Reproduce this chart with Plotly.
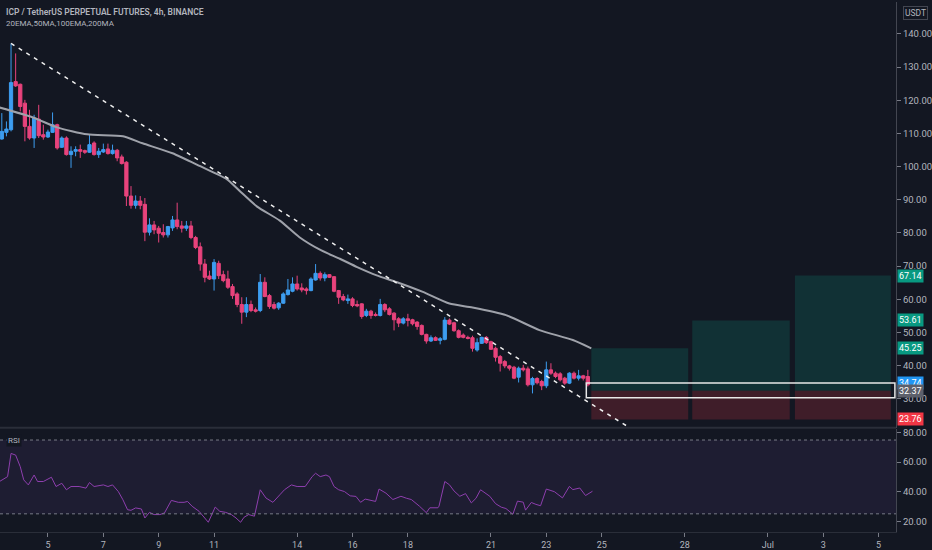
import pandas as pd
import plotly.graph_objects as go
from plotly.subplots import make_subplots

# ICP / USDT perpetual, 4h candles, June 2021
candle_start = "2021-06-03 08:00"

opens = [108.3, 110.3, 111.1, 125.6, 124.8, 119.1, 112.1, 108.6, 114.3, 109.6,
         108.9, 110.3, 112.6, 105.8, 108.6, 103.6, 104.6, 105.1, 104.8, 104.3,
         107.1, 103.6, 104.4, 105.3, 103.9, 104.9, 102.9, 101.3, 91.1, 88.3,
         89.6, 88.6, 80.2, 82.4, 81.4, 80.1, 79.4, 81.5, 83.9, 82.1,
         81.4, 82.1, 78.6, 75.8, 70.6, 67.0, 66.1, 70.8, 67.4, 66.1,
         63.8, 61.6, 58.4, 56.1, 58.4, 56.8, 56.6, 65.1, 61.1, 58.4,
         57.4, 58.8, 61.4, 62.4, 64.6, 63.4, 63.1, 62.6, 65.8, 67.8,
         66.4, 67.4, 66.8, 62.6, 60.8, 59.6, 60.1, 58.4, 58.6, 55.1,
         56.4, 55.4, 55.1, 58.4, 57.1, 55.8, 54.1, 52.8, 54.1, 53.8,
         53.1, 52.1, 49.4, 47.4, 48.4, 47.6, 47.9, 53.7, 52.9, 50.5,
         49.2, 48.5, 48.4, 44.7, 46.7, 48.5, 47.2, 45.2, 42.7, 41.2, 39.9,
         39.5, 36.5, 39.2, 39.0, 34.2, 36.1, 35.2, 33.9, 38.7, 37.7,
         37.5, 36.2, 34.7, 37.7, 36.2, 36.9, 36.7]
highs = [116.1, 113.6, 137.1, 134.1, 125.0, 120.1, 117.1, 115.6, 118.6, 112.6,
         111.1, 116.3, 112.9, 109.1, 109.1, 106.1, 106.1, 106.6, 105.1, 109.6,
         107.6, 105.6, 106.9, 106.9, 106.6, 105.3, 103.6, 101.6, 94.1, 91.3,
         91.1, 90.5, 84.4, 83.6, 82.1, 82.6, 82.1, 85.1, 89.1, 83.6,
         83.6, 83.6, 79.1, 77.1, 72.1, 68.6, 72.1, 71.6, 68.6, 68.6,
         64.6, 62.1, 60.6, 60.6, 59.6, 57.5, 67.6, 66.6, 61.6, 59.2,
         59.1, 62.1, 66.1, 66.6, 67.1, 64.8, 63.6, 66.6, 70.6, 68.4,
         68.1, 67.6, 67.0, 62.8, 61.6, 61.4, 60.6, 59.6, 58.8, 57.1,
         56.8, 56.0, 60.1, 58.8, 57.6, 56.1, 54.6, 54.6, 55.6, 54.1,
         53.4, 52.4, 49.6, 49.1, 48.8, 48.6, 54.6, 54.2, 53.2, 50.9,
         49.7, 49.0, 49.0, 48.2, 48.7, 48.9, 47.5, 45.7, 43.2, 41.7, 40.2,
         39.9, 39.7, 40.2, 39.7, 36.6, 36.5, 35.7, 41.2, 40.7, 38.2,
         38.0, 36.6, 38.0, 38.2, 38.7, 37.2, 38.7]
lows = [108.1, 109.1, 110.6, 124.0, 116.6, 107.6, 108.1, 105.6, 108.6, 108.1,
        108.6, 110.1, 105.1, 105.6, 103.3, 99.6, 103.1, 102.6, 103.8, 104.1,
        103.3, 102.6, 104.1, 103.6, 103.6, 101.6, 100.6, 88.1, 87.3, 87.3,
        87.1, 77.5, 79.2, 79.6, 77.1, 78.6, 78.6, 80.6, 81.1, 80.1,
        80.6, 78.1, 75.1, 68.6, 65.1, 65.8, 62.6, 66.1, 65.1, 63.1,
        60.1, 57.6, 52.6, 54.6, 56.1, 56.0, 56.1, 60.6, 57.1, 56.9,
        56.8, 58.6, 61.1, 62.1, 62.6, 62.1, 61.4, 62.4, 65.6, 65.6,
        65.4, 66.4, 62.1, 58.6, 59.4, 58.6, 57.6, 57.6, 54.1, 54.6,
        54.1, 54.8, 54.8, 56.1, 55.1, 50.6, 51.6, 52.4, 51.8, 52.1,
        50.8, 49.1, 46.6, 47.1, 47.4, 46.4, 47.6, 52.2, 50.2, 48.2,
        48.2, 47.9, 44.2, 44.2, 46.5, 46.5, 44.7, 41.2, 38.2, 39.2, 38.5,
        35.9, 34.9, 38.2, 33.7, 31.6, 34.3, 32.6, 33.2, 37.2, 36.2,
        35.2, 34.2, 34.4, 35.8, 35.5, 35.5, 33.7]
closes = [110.6, 111.3, 125.3, 124.3, 118.1, 112.1, 108.6, 114.6, 109.3, 108.9,
          110.4, 112.6, 105.6, 108.6, 103.6, 104.6, 105.1, 104.6, 104.3, 106.6,
          103.6, 104.6, 105.1, 103.9, 104.9, 102.6, 100.9, 91.1, 88.3, 89.6,
          88.3, 80.2, 82.4, 80.9, 79.9, 79.4, 81.9, 83.9, 81.9, 81.4,
          82.1, 78.6, 75.6, 70.6, 66.6, 66.1, 71.1, 67.1, 65.6, 63.6,
          61.1, 58.4, 56.1, 58.4, 56.6, 56.4, 65.1, 60.8, 57.8, 57.3,
          58.8, 61.6, 62.8, 64.6, 63.1, 62.8, 62.6, 66.1, 67.8, 66.4,
          67.4, 66.6, 62.4, 60.6, 59.8, 60.1, 58.1, 58.0, 54.8, 56.4,
          55.1, 55.1, 58.4, 56.8, 55.4, 53.8, 52.8, 54.1, 53.6, 52.6,
          51.8, 49.4, 47.4, 48.4, 47.6, 48.1, 53.7, 52.5, 50.5, 48.5,
          48.5, 48.2, 45.2, 46.9, 48.5, 46.9, 44.9, 42.5, 40.7, 39.9, 39.2,
          36.2, 39.2, 38.7, 34.2, 36.1, 34.8, 33.9, 38.7, 37.7, 36.7,
          35.7, 34.7, 37.7, 36.2, 36.9, 36.2, 34.2]

# moving average (grey line), hours after 2021-06-05 00:00
ema_hours = [-42, -13, 8, 34, 65, 82, 108, 132, 155, 166, 181, 201, 218,
             237, 253, 268, 285, 302, 325, 348, 368, 397, 426, 455, 471]
ema_vals = [117.8, 114.8, 111.8, 109.7, 109.1, 107.0, 104.0, 100.1, 96.2, 92.7,
            88.0, 83.7, 78.7, 74.7, 72.2, 69.7, 67.2, 65.2, 62.2, 58.7,
            57.5, 55.2, 50.7, 47.7, 45.2]

# RSI, hours after 2021-06-05 00:00
rsi_hours = [-42, -37, -35, -32, -28, -24, -21, -17, -12, -9, -4, 3, 7, 12, 16, 20,
             27, 33, 36, 40, 48, 52, 56, 61, 65, 69, 72, 76, 81, 84, 88, 92,
             97, 101, 107, 113, 118, 121, 125, 131, 136, 139, 145, 149, 154, 159,
             163, 167, 170, 174, 179, 184, 189, 195, 201, 205, 211, 216, 223, 229,
             232, 236, 241, 244, 248, 252, 257, 262, 267, 271, 275, 280, 284,
             287, 293, 299, 306, 311, 315, 322, 328, 331, 338, 339, 344, 348,
             352, 357, 362, 367, 371, 375, 383, 388, 393, 397, 403, 407, 412,
             414, 419, 423, 427, 432, 439, 446, 452, 455, 461, 466, 472]
rsi_vals = [46.9, 49.1, 50.2, 65.9, 64.8, 56.9, 48.0, 44.6, 51.3, 46.9, 46.9, 49.8,
            43.5, 45.7, 41.3, 43.5, 43.5, 42.4, 46.2, 43.5, 44.6, 43.5, 44.6, 40.1,
            34.5, 27.8, 27.4, 29.0, 28.3, 22.2, 26.0, 24.5, 24.5, 25.6, 34.1, 32.8,
            32.8, 33.4, 30.1, 26.7, 21.6, 19.3, 29.6, 26.7, 26.0, 24.5, 22.2, 19.3,
            22.7, 24.5, 23.4, 41.3, 35.7, 32.8, 37.9, 41.3, 44.6, 43.5, 43.5, 50.2,
            52.5, 50.2, 51.3, 50.2, 43.5, 41.3, 40.1, 37.2, 36.8, 32.8, 35.0, 33.9,
            33.4, 41.8, 39.0, 34.7, 36.9, 35.5, 34.7, 30.2, 25.8, 29.1, 29.1, 30.2,
            46.9, 44.7, 40.5, 36.9, 38.7, 32.4, 35.5, 41.3, 36.9, 31.9, 29.5, 28.6,
            24.7, 33.6, 32.9, 27.5, 32.7, 31.4, 30.5, 41.8, 40.0, 35.8, 43.6, 41.4,
            42.5, 37.4, 40.3]

# drawings
trend_dates = ["2021-06-03 16:00", "2021-06-26 00:00"]
trend_prices = [137.1, 21.3]

entry_price = 32.37
stop_price = 23.76
target_prices = [45.25, 53.61, 67.14]
box_starts = ["2021-06-24 15:00", "2021-06-28 06:30", "2021-07-01 23:30"]
box_ends = ["2021-06-28 03:00", "2021-07-01 19:00", "2021-07-05 10:40"]
rect_dates = ["2021-06-24 10:40", "2021-07-05 14:10"]
rect_prices = [30.3, 34.74]

price_ticks = [30, 40, 50, 60, 70, 80, 90, 100, 110, 120, 130, 140]
rsi_ticks = [20, 40, 60, 80]
date_ticks = ["2021-06-05", "2021-06-07", "2021-06-09", "2021-06-11", "2021-06-14",
              "2021-06-16", "2021-06-18", "2021-06-21", "2021-06-23", "2021-06-25",
              "2021-06-28", "2021-07-01", "2021-07-03", "2021-07-05"]
date_labels = ["5", "7", "9", "11", "14", "16", "18", "21", "23", "25", "28", "Jul", "3", "5"]

axis_labels = [(67.14, "#089981"), (53.61, "#089981"), (45.25, "#089981"),
               (34.74, "#2196f3"), (32.37, "#5d606b"), (23.76, "#f23645")]

BG = "#131722"
TXT = "#b2b5be"
FONT = "Roboto"

times = pd.date_range(candle_start, periods=len(closes), freq="4h")
base = pd.Timestamp("2021-06-05")
ema_t = base + pd.to_timedelta(ema_hours, unit="h")
rsi_t = base + pd.to_timedelta(rsi_hours, unit="h")

fig = make_subplots(rows=2, cols=1, shared_xaxes=True)

fig.add_trace(go.Candlestick(
    x=times, open=opens, high=highs, low=lows, close=closes,
    increasing=dict(line=dict(color="#3d9df0", width=1), fillcolor="#3d9df0"),
    decreasing=dict(line=dict(color="#e8437c", width=1), fillcolor="#e8437c"),
    whiskerwidth=0, showlegend=False, hoverinfo="skip"), row=1, col=1)

fig.add_trace(go.Scatter(x=ema_t, y=ema_vals, mode="lines",
                         line=dict(color="#9fa2aa", width=2, shape="spline", smoothing=0.6),
                         showlegend=False, hoverinfo="skip"), row=1, col=1)

fig.add_trace(go.Scatter(x=pd.to_datetime(trend_dates), y=trend_prices, mode="lines",
                         line=dict(color="#f0f0f0", width=1.5, dash="4px,5px"),
                         showlegend=False, hoverinfo="skip"), row=1, col=1)

fig.add_trace(go.Scatter(x=rsi_t, y=rsi_vals, mode="lines",
                         line=dict(color="#8e3fae", width=1),
                         showlegend=False, hoverinfo="skip"), row=2, col=1)

# long position boxes
for s, e, tp in zip(box_starts, box_ends, target_prices):
    fig.add_shape(type="rect", xref="x", yref="y", x0=s, x1=e, y0=entry_price, y1=tp,
                  fillcolor="rgba(8,153,129,0.2)", line_width=0, layer="below")
    fig.add_shape(type="rect", xref="x", yref="y", x0=s, x1=e, y0=stop_price, y1=entry_price,
                  fillcolor="rgba(242,54,69,0.2)", line_width=0, layer="below")

fig.add_shape(type="rect", xref="x", yref="y", x0=rect_dates[0], x1=rect_dates[1],
              y0=rect_prices[0], y1=rect_prices[1],
              line=dict(color="#e8e8e8", width=1.5), fillcolor="rgba(0,0,0,0)")

# RSI band
fig.add_shape(type="rect", xref="x2 domain", yref="y2", x0=0, x1=1, y0=25, y1=75,
              fillcolor="rgba(126,87,194,0.1)", line_width=0, layer="below")
for lvl in (25, 75):
    fig.add_shape(type="line", xref="x2 domain", yref="y2", x0=0, x1=1, y0=lvl, y1=lvl,
                  line=dict(color="#787b86", width=1, dash="3px,3px"))

# pane separator
fig.add_shape(type="line", xref="paper", yref="paper", x0=0, x1=1, y0=0.1965, y1=0.1965,
              line=dict(color="#2a2e39", width=2))

for price, col in axis_labels:
    fig.add_annotation(x=1, xref="paper", y=price, yref="y", xanchor="left", xshift=1,
                       text=f"{price:.2f}", showarrow=False, bgcolor=col,
                       font=dict(family=FONT, size=9, color="white"), borderpad=1)

fig.add_annotation(x=0, xref="paper", y=1, yref="paper", xanchor="left", yanchor="top",
                   xshift=4, yshift=-3, showarrow=False,
                   text="ICP / TetherUS PERPETUAL FUTURES, 4h, BINANCE",
                   font=dict(family=FONT, size=8.5, color=TXT, weight=600))
fig.add_annotation(x=0, xref="paper", y=1, yref="paper", xanchor="left", yanchor="top",
                   xshift=4, yshift=-15, showarrow=False, text="20EMA,50MA,100EMA,200MA",
                   font=dict(family=FONT, size=8, color=TXT))
fig.add_annotation(x=1, xref="paper", y=1, yref="paper", xanchor="left", yanchor="top",
                   xshift=7, yshift=-4, showarrow=False, text="USDT",
                   bordercolor="#434651", borderwidth=1, borderpad=1,
                   font=dict(family=FONT, size=8.5, color=TXT))
fig.add_annotation(x=0, xref="paper", y=75, yref="y2", xanchor="left",
                   xshift=6, showarrow=False, text="RSI", bgcolor=BG,
                   font=dict(family=FONT, size=8, color=TXT))

x_range = ["2021-06-03 06:26", "2021-07-05 15:07"]

fig.update_layout(
    width=932, height=550,
    margin=dict(l=0, r=35, t=0, b=17),
    paper_bgcolor=BG, plot_bgcolor=BG,
    font=dict(family=FONT, color=TXT),
    showlegend=False,
    boxgap=0.3, boxgroupgap=0,
    xaxis=dict(range=x_range, rangeslider=dict(visible=False), showticklabels=False,
               showgrid=False, zeroline=False),
    xaxis2=dict(range=x_range, tickvals=date_ticks, ticktext=date_labels,
                ticks="outside", ticklen=4, tickcolor="#787b86",
                tickfont=dict(size=9, color=TXT), showgrid=False, zeroline=False,
                showline=True, linecolor="#2a2e39", linewidth=1),
    yaxis=dict(domain=[0.197, 1], range=[21.3, 149.6], side="right",
               tickvals=price_ticks, tickformat=".2f", ticks="outside", ticklen=4,
               tickcolor="#787b86", tickfont=dict(size=9.5, color=TXT),
               showgrid=False, zeroline=False, showline=True, linecolor="#434651"),
    yaxis2=dict(domain=[0, 0.195], range=[12.7, 82.7], side="right",
                tickvals=rsi_ticks, tickformat=".2f", ticks="outside", ticklen=4,
                tickcolor="#787b86", tickfont=dict(size=9.5, color=TXT),
                showgrid=False, zeroline=False, showline=True, linecolor="#434651"),
)

fig.write_html("out.html", config={"displayModeBar": False},
               post_script="document.body.style.margin='0';document.body.style.background='#131722';")
